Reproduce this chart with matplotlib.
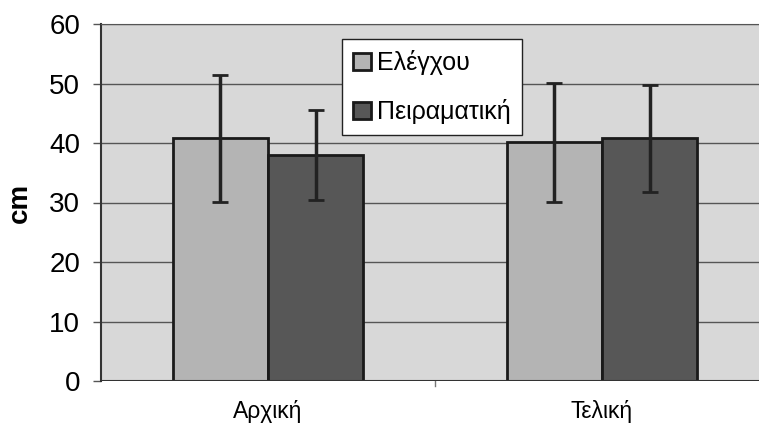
import matplotlib.pyplot as plt
import numpy as np

# data
categories = ["Αρχική", "Τελική"]
series = ["Ελέγχου", "Πειραματική"]
control = [40.8, 40.1]
control_err = [10.7, 10.0]
experimental = [38.0, 40.8]
experimental_err = [7.6, 9.0]
yticks = [0, 10, 20, 30, 40, 50, 60]

plt.rcParams['font.family'] = ['Liberation Sans', 'DejaVu Sans']

fig = plt.figure(figsize=(7.59, 4.30), dpi=100)
# axes in pixels: left 101, bottom 381 (from top), top 24
ax = fig.add_axes([101/759, (430-381)/430, (769-101)/759, (381-24)/430])

x = np.arange(len(categories))
w = 0.285
ax.set_facecolor('#d8d8d8')
ax.bar(x - w/2, control, w, color='#b4b4b4', edgecolor='#1a1a1a', linewidth=2,
       label=series[0], zorder=3)
ax.bar(x + w/2, experimental, w, color='#575757', edgecolor='#1a1a1a', linewidth=2,
       label=series[1], zorder=3)
ax.errorbar(x - w/2, control, yerr=control_err, fmt='none', ecolor='#222222',
            elinewidth=2.5, capsize=6, capthick=2, zorder=4)
ax.errorbar(x + w/2, experimental, yerr=experimental_err, fmt='none', ecolor='#222222',
            elinewidth=2.5, capsize=6, capthick=2, zorder=4)

ax.set_xlim(-0.5, 1.5)
ax.set_ylim(0, 60)
ax.set_yticks(yticks)
ax.set_yticklabels([str(v) for v in yticks], fontsize=20)
ax.set_xticks(x)
ax.set_xticklabels(categories, fontsize=16.5)
ax.tick_params(axis='x', length=0, pad=14)
ax.tick_params(axis='y', length=6, width=1, color='#555555', pad=9)
ax.set_ylabel("cm", fontsize=20, fontweight='bold', labelpad=12)
ax.grid(axis='y', color='#555555', linewidth=1, zorder=1)
for s in ['right', 'bottom']:
    ax.spines[s].set_visible(False)
ax.spines['top'].set_color('#555555')
ax.spines['left'].set_color('#333333')
ax.spines['left'].set_linewidth(1.5)
ax.axhline(0, color='#333333', linewidth=1.5, zorder=5)
# category separator tick
for xs in [0.5]:
    ax.plot([xs, xs], [0, -0.9], color='#777777', linewidth=1, clip_on=False)

leg = ax.legend(loc='upper left', bbox_to_anchor=((342-101)/668, (381-39)/357),
                fontsize=18, frameon=True, fancybox=False, framealpha=1,
                edgecolor='#222222', handlelength=0.7, handleheight=0.7,
                labelspacing=0.95, handletextpad=0.25, borderpad=0.45,
                borderaxespad=0)
leg.get_frame().set_linewidth(1)

fig.savefig("out.png", dpi=100)
